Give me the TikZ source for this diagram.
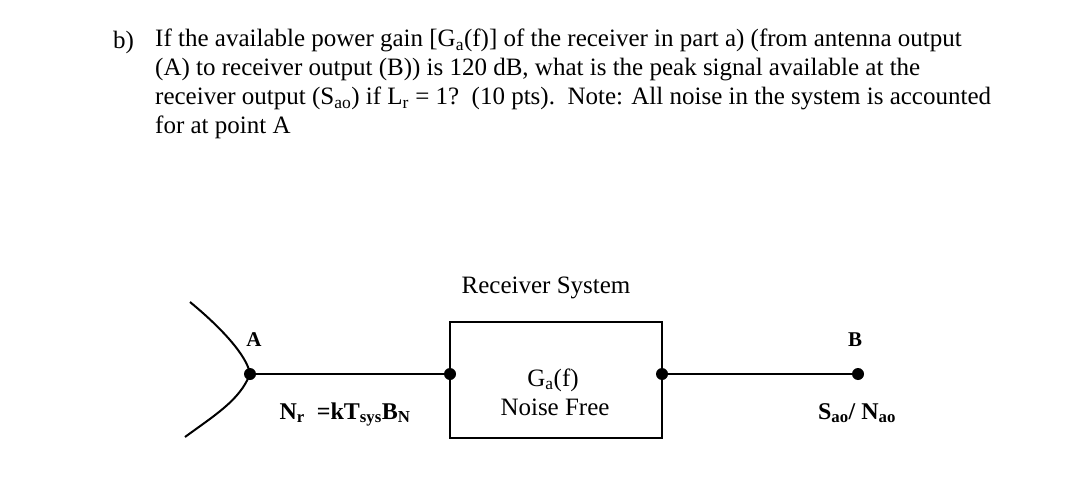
\documentclass[tikz,border=0pt]{standalone}
\usepackage{fontspec}
\setmainfont{Liberation Serif}
\begin{document}
\begin{tikzpicture}[x=1pt,y=-1pt,
  dot/.style={circle,fill=black,inner sep=0pt,minimum size=12pt},
  t/.style={inner sep=0pt,anchor=base west,font=\fontsize{25}{29}\selectfont},
  lab/.style={inner sep=0pt,anchor=base,font=\fontsize{25}{29}\selectfont},
  blab/.style={lab,font=\fontsize{24}{28}\selectfont\bfseries},
  wire/.style={line width=2pt}]
\useasboundingbox (0,0) rectangle (1080,479);
\node[t] (b) at (113,48) {b)};
\node[t,anchor=north west,align=left] (q) at (155,29)
 {If the available power gain [G\textsubscript{a}(f)] of the receiver in part a) (from antenna output\\
 (A) to receiver output (B)) is 120 dB, what is the peak signal available at the\\
 receiver output (S\textsubscript{ao}) if L\textsubscript{r} = 1?\ \ (10 pts).\ \ Note: All noise in the system is accounted\\
 for at point A};
\node[lab] (rs) at (546,293) {Receiver System};
\draw[wire] (450,322) rectangle (662,438);
\node[dot] (a) at (250,374) {};
\node[dot] (i) at (450,374) {};
\node[dot] (o) at (662,374) {};
\node[dot] (bb) at (858,374) {};
\draw[wire] (a) -- (i);
\draw[wire] (o) -- (bb);
\draw[wire] (190,302) .. controls (230,335) and (248,360) .. (a.center) .. controls (240,400) and (215,415) .. (185,437);
\node[blab,font=\fontsize{21}{24}\selectfont\bfseries] (la) at (254,346) {A};
\node[blab,font=\fontsize{21}{24}\selectfont\bfseries] (lb) at (855,346) {B};
\node[lab] (g) at (553,386) {G\textsubscript{a}(f)};
\node[lab] (nf) at (555,415) {Noise Free};
\node[blab] (nr) at (345,419) {N\textsubscript{r}\ \ =kT\textsubscript{sys}B\textsubscript{N}};
\node[blab] (sn) at (857,419) {S\textsubscript{ao}/ N\textsubscript{ao}};
\end{tikzpicture}
\end{document}
